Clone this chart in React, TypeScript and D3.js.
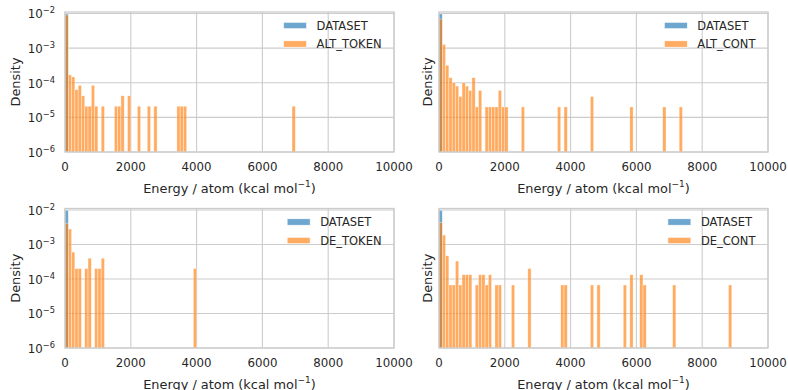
import React, { useEffect, useRef } from 'react';
import * as d3 from 'd3';

const WIDTH = 788;
const HEIGHT = 390;
const BIN_WIDTH = 100;
const X_DOMAIN: [number, number] = [0, 10000];
const Y_DOMAIN: [number, number] = [1e-6, 1.1e-2];
const X_TICKS = [0, 2000, 4000, 6000, 8000, 10000];
const Y_TICK_EXPONENTS = [-6, -5, -4, -3, -2];
const X_LABEL = 'Energy / atom (kcal mol';
const Y_LABEL = 'Density';

// reference distribution (all in the first bin)
const DATASET_LABEL = 'DATASET';
const datasetBins = [0];
const datasetDensity = [9.7e-3];

// bin indices (100 kcal/mol wide) and densities
const altTokenBins = [0, 1, 2, 3, 4, 5, 6, 7, 8, 9, 11, 15, 16, 17, 19, 22, 25, 27, 34, 35, 36, 69];
const altTokenDensity = [
  9.0e-3, 1.68e-4, 1.47e-4, 6.3e-5, 8.4e-5, 4.2e-5, 2.1e-5, 2.1e-5, 8.4e-5, 2.1e-5, 2.1e-5,
  2.1e-5, 2.1e-5, 4.2e-5, 4.2e-5, 2.1e-5, 2.1e-5, 2.1e-5, 2.1e-5, 2.1e-5, 2.1e-5, 2.1e-5,
];

const altContBins = [0, 1, 2, 3, 4, 5, 6, 7, 8, 9, 10, 11, 12, 14, 15, 16, 17, 18, 19, 20, 25, 36, 38, 46, 58, 68, 73];
const altContDensity = [
  6.9e-3, 1.28e-3, 3.2e-4, 1.4e-4, 1.0e-4, 8.0e-5, 4.0e-5, 1.0e-4, 8.0e-5, 6.0e-5, 1.4e-4,
  2.0e-5, 6.0e-5, 2.0e-5, 2.0e-5, 2.0e-5, 2.0e-5, 6.0e-5, 2.0e-5, 2.0e-5, 2.0e-5, 2.0e-5,
  2.0e-5, 4.0e-5, 2.0e-5, 2.0e-5, 2.0e-5,
];

const deTokenBins = [0, 1, 2, 3, 4, 6, 7, 9, 10, 11, 39];
const deTokenDensity = [4.1e-3, 2.8e-3, 6.0e-4, 2.0e-4, 2.0e-4, 2.0e-4, 4.0e-4, 2.0e-4, 2.0e-4, 4.0e-4, 2.0e-4];

const deContBins = [0, 1, 2, 3, 4, 5, 6, 7, 8, 9, 11, 12, 13, 14, 15, 17, 18, 22, 27, 37, 38, 46, 48, 56, 58, 61, 62, 71, 88];
const deContDensity = [
  4.3e-3, 1.87e-3, 4.7e-4, 6.7e-5, 6.7e-5, 3.3e-4, 6.7e-5, 1.33e-4, 1.33e-4, 1.33e-4, 6.7e-5,
  1.33e-4, 1.33e-4, 6.7e-5, 1.33e-4, 6.7e-5, 6.7e-5, 6.7e-5, 2.0e-4, 6.7e-5, 6.7e-5, 6.7e-5,
  6.7e-5, 6.7e-5, 1.33e-4, 1.33e-4, 6.7e-5, 6.7e-5, 6.7e-5,
];

const panels = [
  { label: 'ALT_TOKEN', bins: altTokenBins, density: altTokenDensity },
  { label: 'ALT_CONT', bins: altContBins, density: altContDensity },
  { label: 'DE_TOKEN', bins: deTokenBins, density: deTokenDensity },
  { label: 'DE_CONT', bins: deContBins, density: deContDensity },
];

const COLS = [{ left: 65, right: 394 }, { left: 439, right: 768 }];
const ROWS = [{ top: 12, bottom: 152 }, { top: 208.5, bottom: 348 }];

const BLUE = '#1f77b4';
const ORANGE = '#ff7f0e';
const ALPHA = 0.65;
const TEXT = '#262626';
const GRID = '#cccccc';
const FONT = '"DejaVu Sans", sans-serif';

export default function App() {
  const svgRef = useRef<SVGSVGElement>(null);

  useEffect(() => {
    if (!svgRef.current) return;
    const svg = d3.select(svgRef.current);
    svg.selectAll('*').remove();

    panels.forEach((p, i) => {
      const col = COLS[i % 2];
      const row = ROWS[Math.floor(i / 2)];
      const x = d3.scaleLinear().domain(X_DOMAIN).range([col.left, col.right]);
      const y = d3.scaleLog().domain(Y_DOMAIN).range([row.bottom, row.top]);
      const g = svg.append('g').attr('font-family', FONT).attr('fill', TEXT);

      // grid
      g.append('g')
        .selectAll('line')
        .data(X_TICKS)
        .join('line')
        .attr('x1', d => x(d)).attr('x2', d => x(d))
        .attr('y1', row.top).attr('y2', row.bottom)
        .attr('stroke', GRID).attr('stroke-width', 1.1);
      g.append('g')
        .selectAll('line')
        .data(Y_TICK_EXPONENTS)
        .join('line')
        .attr('x1', col.left).attr('x2', col.right)
        .attr('y1', d => y(Math.pow(10, d))).attr('y2', d => y(Math.pow(10, d)))
        .attr('stroke', GRID).attr('stroke-width', 1.1);

      const drawBars = (bins: number[], dens: number[], color: string) => {
        g.append('g')
          .selectAll('rect')
          .data(bins.map((b, k) => ({ b, v: dens[k] })))
          .join('rect')
          .attr('x', d => x(d.b * BIN_WIDTH))
          .attr('width', x(BIN_WIDTH) - x(0))
          .attr('y', d => y(d.v))
          .attr('height', d => row.bottom - y(d.v))
          .attr('fill', color)
          .attr('fill-opacity', ALPHA)
          .attr('stroke', '#ffffff')
          .attr('stroke-opacity', 0.6)
          .attr('stroke-width', 0.6);
      };
      drawBars(datasetBins, datasetDensity, BLUE);
      drawBars(p.bins, p.density, ORANGE);

      // frame
      g.append('rect')
        .attr('x', col.left).attr('y', row.top)
        .attr('width', col.right - col.left).attr('height', row.bottom - row.top)
        .attr('fill', 'none').attr('stroke', GRID).attr('stroke-width', 1.3);

      // x tick labels
      g.append('g')
        .selectAll('text')
        .data(X_TICKS)
        .join('text')
        .attr('x', d => x(d))
        .attr('y', row.bottom + 18.7)
        .attr('text-anchor', 'middle')
        .attr('font-size', 11.8)
        .text(d => String(d));

      // y tick labels (shared y, only on the left column)
      if (i % 2 === 0) {
        const yt = g.append('g')
          .selectAll('text')
          .data(Y_TICK_EXPONENTS)
          .join('text')
          .attr('x', col.left - 10)
          .attr('y', d => y(Math.pow(10, d)) + 5)
          .attr('text-anchor', 'end')
          .attr('font-size', 11.8);
        yt.append('tspan').text('10');
        yt.append('tspan')
          .attr('font-size', 8.3)
          .attr('dy', -5)
          .text(d => '\u2212' + Math.abs(d));
      }

      // axis labels
      const xl = g.append('text')
        .attr('x', (col.left + col.right) / 2)
        .attr('y', row.bottom + 40.5)
        .attr('text-anchor', 'middle')
        .attr('font-size', 12.9);
      xl.append('tspan').text(X_LABEL);
      xl.append('tspan').attr('font-size', 9).attr('dy', -5.5).text('\u22121');
      xl.append('tspan').attr('dy', 5.5).text(')');

      const ylx = i % 2 === 0 ? col.left - 45.5 : col.left - 7.5;
      g.append('text')
        .attr('transform', `translate(${ylx},${(row.top + row.bottom) / 2}) rotate(-90)`)
        .attr('text-anchor', 'middle')
        .attr('font-size', 12.9)
        .text(Y_LABEL);

      // legend
      const entries = [
        { label: DATASET_LABEL, color: BLUE },
        { label: p.label, color: ORANGE },
      ];
      const lg = g.append('g');
      const texts = lg.selectAll('text')
        .data(entries)
        .join('text')
        .attr('font-size', 11.5)
        .attr('y', (_, k) => row.top + 13.5 + k * 18.5 + 4.2)
        .text(d => d.label);
      let maxW = 0;
      texts.each(function () {
        maxW = Math.max(maxW, (this as SVGTextElement).getComputedTextLength());
      });
      const tx = col.right - 12.5 - maxW;
      texts.attr('x', tx);
      lg.selectAll('rect')
        .data(entries)
        .join('rect')
        .attr('x', tx - 33)
        .attr('width', 23)
        .attr('y', (_, k) => row.top + 13.5 + k * 18.5 - 3.2)
        .attr('height', 6.4)
        .attr('fill', d => d.color)
        .attr('fill-opacity', ALPHA)
        .attr('stroke', '#ffffff')
        .attr('stroke-width', 0.6);
    });
  }, []);

  return (
    <svg
      ref={svgRef}
      width={WIDTH}
      height={HEIGHT}
      style={{ position: 'absolute', left: 0, top: 0, background: '#ffffff' }}
    />
  );
}
